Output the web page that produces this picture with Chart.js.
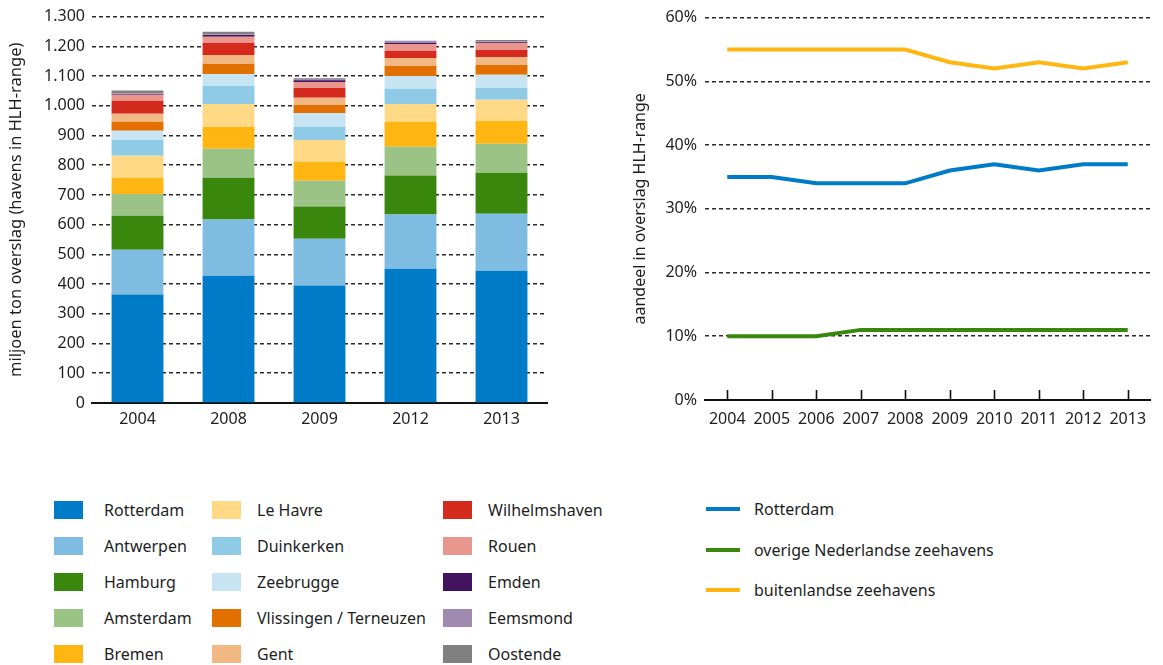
<!DOCTYPE html>
<html>
<head>
<meta charset="utf-8">
<script src="https://cdn.jsdelivr.net/npm/chart.js@4"></script>
<style>
    body { margin: 0; width: 1163px; height: 665px; background: #fff; font-family: "Noto Sans", sans-serif; color: #1e1e1e; position: relative; overflow: hidden; }
    .box { position: absolute; }
    #barBox { left: 0; top: 0; width: 555px; height: 440px; }
    #lineBox { left: 625px; top: 0; width: 538px; height: 440px; }
    .leg { position: absolute; font-size: 16px; line-height: 20px; white-space: nowrap; }
    .sw { position: absolute; width: 29px; height: 18px; }
    .ln { position: absolute; width: 34px; height: 4px; }
</style>
</head>
<body>
<div class="box" id="barBox"><canvas id="barChart"></canvas></div>
<div class="box" id="lineBox"><canvas id="lineChart"></canvas></div>
<div id="legends"></div>
<script>
/* ---------- data: left chart (miljoen ton) ---------- */
const years = ["2004", "2008", "2009", "2012", "2013"];

const rotterdam     = [365, 428, 395, 452, 445];
const antwerpen     = [151, 189, 158, 182, 192];
const hamburg       = [114, 141, 108, 131, 138];
const amsterdam     = [73, 97, 87, 97, 97];
const bremen        = [55, 74, 64, 84, 77];
const leHavre       = [74, 77, 73, 60, 71];
const duinkerken    = [53, 61, 44, 51, 40];
const zeebrugge     = [31, 40, 47, 43, 44];
const vlissingen    = [30, 34, 27, 34, 33];
const gent          = [27, 30, 24, 27, 27];
const wilhelmshaven = [44, 41, 33, 24, 24];
const rouen         = [20, 20, 20, 23, 23];
const emden         = [3, 6, 6, 3, 3];
const eemsmond      = [2, 2, 4, 7, 2];
const oostende      = [9, 9, 3, 1, 5];

/* ---------- data: right chart (aandeel %) ---------- */
const lineYears = ["2004", "2005", "2006", "2007", "2008", "2009", "2010", "2011", "2012", "2013"];

const rotterdamShare = [35, 35, 34, 34, 34, 36, 37, 36, 37, 37];
const nlShare        = [10, 10, 10, 11, 11, 11, 11, 11, 11, 11];
const foreignShare   = [55, 55, 55, 55, 55, 53, 52, 53, 52, 53];

/* ---------- series setup ---------- */
const ports = [
    { label: "Rotterdam", data: rotterdam, color: "#007BC7" },
    { label: "Antwerpen", data: antwerpen, color: "#7FBCE2" },
    { label: "Hamburg", data: hamburg, color: "#39870C" },
    { label: "Amsterdam", data: amsterdam, color: "#9BC386" },
    { label: "Bremen", data: bremen, color: "#FFB612" },
    { label: "Le Havre", data: leHavre, color: "#FFD985" },
    { label: "Duinkerken", data: duinkerken, color: "#8FCAE6" },
    { label: "Zeebrugge", data: zeebrugge, color: "#C7E4F2" },
    { label: "Vlissingen / Terneuzen", data: vlissingen, color: "#E17000" },
    { label: "Gent", data: gent, color: "#F1B883" },
    { label: "Wilhelmshaven", data: wilhelmshaven, color: "#D52B1E" },
    { label: "Rouen", data: rouen, color: "#E9968F" },
    { label: "Emden", data: emden, color: "#42145F" },
    { label: "Eemsmond", data: eemsmond, color: "#A08AB0" },
    { label: "Oostende", data: oostende, color: "#808080" }
];

const shares = [
    { label: "Rotterdam", data: rotterdamShare, color: "#007BC7" },
    { label: "overige Nederlandse zeehavens", data: nlShare, color: "#39870C" },
    { label: "buitenlandse zeehavens", data: foreignShare, color: "#FFB612" }
];

const FONT = "'Noto Sans', sans-serif";
const TEXT = "#1e1e1e";

Chart.defaults.font.family = FONT;
Chart.defaults.color = TEXT;

const gridStyle = { color: "#2b2b2b", lineWidth: 1.6, drawTicks: false };

function nlNumber(v) {
    if (v >= 1000) return Math.floor(v / 1000) + "." + String(v % 1000).padStart(3, "0");
    return String(v);
}

/* small upward tick marks on the x axis (right chart) */
const upTicks = {
    id: "upTicks",
    afterDatasetsDraw(chart) {
        const x = chart.scales.x;
        const ctx = chart.ctx;
        ctx.save();
        ctx.strokeStyle = "#111";
        ctx.lineWidth = 1.6;
        x.ticks.forEach((t, i) => {
            const px = Math.round(x.getPixelForTick(i)) + 0.5;
            ctx.beginPath();
            ctx.moveTo(px, x.top);
            ctx.lineTo(px, x.top - 10);
            ctx.stroke();
        });
        ctx.restore();
    }
};

/* ---------- left: stacked bars ---------- */
new Chart(document.getElementById("barChart"), {
    type: "bar",
    data: {
        labels: years,
        datasets: ports.map(p => ({
            label: p.label,
            data: p.data,
            backgroundColor: p.color,
            borderWidth: 0,
            barPercentage: 0.57,
            categoryPercentage: 1
        }))
    },
    options: {
        responsive: true,
        maintainAspectRatio: false,
        animation: false,
        layout: { padding: { top: 16, right: 8, left: 0, bottom: 0 } },
        plugins: { legend: { display: false }, tooltip: { enabled: false } },
        scales: {
            x: {
                stacked: true,
                grid: { display: false, drawTicks: false },
                border: { display: true, color: "#111", width: 2 },
                ticks: { font: { size: 16 }, color: TEXT, padding: 7 },
                afterFit(s) { s.height = 37; }
            },
            y: {
                stacked: true,
                min: 0,
                max: 1300,
                grid: gridStyle,
                border: { display: false, dash: [4, 3] },
                ticks: { stepSize: 100, font: { size: 16 }, color: TEXT, padding: 7, callback: v => nlNumber(v) },
                title: { display: true, text: "miljoen ton overslag (havens in HLH-range)", font: { size: 16.5 }, color: TEXT, padding: { top: 6, bottom: 0 } },
                afterFit(s) { s.width = 92; }
            }
        }
    }
});

/* ---------- right: share lines ---------- */
new Chart(document.getElementById("lineChart"), {
    type: "line",
    data: {
        labels: lineYears,
        datasets: shares.map(s => ({
            label: s.label,
            data: s.data,
            borderColor: s.color,
            backgroundColor: s.color,
            borderWidth: 4,
            pointRadius: 0,
            tension: 0,
            fill: false
        }))
    },
    options: {
        responsive: true,
        maintainAspectRatio: false,
        animation: false,
        layout: { padding: { top: 16, right: 13, left: 0, bottom: 0 } },
        plugins: { legend: { display: false }, tooltip: { enabled: false } },
        scales: {
            x: {
                offset: true,
                grid: { display: false, drawTicks: false },
                border: { display: true, color: "#111", width: 2 },
                ticks: { font: { size: 16 }, color: TEXT, padding: 10, maxRotation: 0, autoSkip: false },
                afterFit(s) { s.height = 40; }
            },
            y: {
                min: 0,
                max: 60,
                grid: gridStyle,
                border: { display: false, dash: [4, 3] },
                ticks: { stepSize: 10, font: { size: 16 }, color: TEXT, padding: 8, callback: v => v + "%" },
                title: { display: true, text: "aandeel in overslag HLH-range", font: { size: 16 }, color: TEXT, padding: { top: 6, bottom: 0 } },
                afterFit(s) { s.width = 80; }
            }
        }
    },
    plugins: [upTicks]
});

/* ---------- legends (html) ---------- */
const legends = document.getElementById("legends");
const colX = [[54, 104], [212, 257], [443, 488]];

ports.forEach((p, i) => {
    const col = Math.floor(i / 5);
    const row = i % 5;
    const y = 510 + row * 36;
    const sw = document.createElement("div");
    sw.className = "sw";
    sw.style.left = colX[col][0] + "px";
    sw.style.top = (y - 9) + "px";
    sw.style.background = p.color;
    legends.appendChild(sw);
    const t = document.createElement("div");
    t.className = "leg";
    t.style.left = colX[col][1] + "px";
    t.style.top = (y - 10) + "px";
    t.textContent = p.label;
    legends.appendChild(t);
});

shares.forEach((s, i) => {
    const y = 509 + i * 40.5;
    const ln = document.createElement("div");
    ln.className = "ln";
    ln.style.left = "706px";
    ln.style.top = (y - 2) + "px";
    ln.style.background = s.color;
    legends.appendChild(ln);
    const t = document.createElement("div");
    t.className = "leg";
    t.style.left = "754px";
    t.style.top = (y - 10) + "px";
    t.textContent = s.label;
    legends.appendChild(t);
});
</script>
</body>
</html>
